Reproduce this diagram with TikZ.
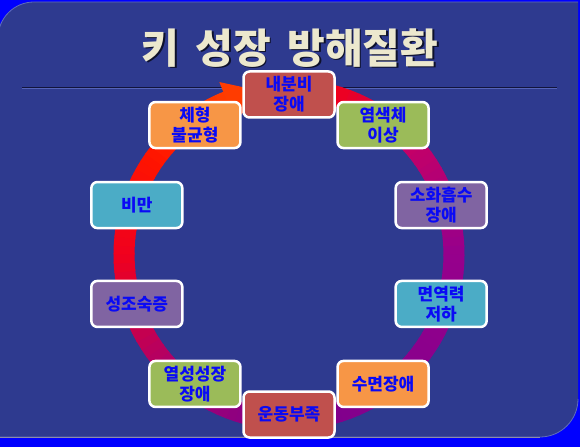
\documentclass[tikz,border=0pt]{standalone}
\usepackage{fontspec}
\newfontfamily\kr{Noto Sans CJK KR}
\definecolor{bgblue}{RGB}{0,0,255}
\definecolor{panelc}{RGB}{46,58,143}
\definecolor{paneledge}{RGB}{95,108,190}
\definecolor{bottomline}{RGB}{140,140,170}
\definecolor{sepdark}{RGB}{18,20,60}
\definecolor{seplight}{RGB}{85,100,185}
\definecolor{titlec}{RGB}{236,232,206}
\definecolor{textblue}{RGB}{10,10,245}
\definecolor{bxred}{HTML}{C0504D}
\definecolor{bxgreen}{HTML}{9BBB59}
\definecolor{bxpurple}{HTML}{8064A2}
\definecolor{bxaqua}{HTML}{4BACC6}
\definecolor{bxorange}{HTML}{F79646}
\definecolor{rc0}{RGB}{255,0,0}
\definecolor{rc1}{RGB}{200,0,100}
\definecolor{rc2}{RGB}{150,0,140}
\definecolor{rc3}{RGB}{125,0,140}
\definecolor{rc4}{RGB}{170,0,110}
\definecolor{rc5}{RGB}{240,0,30}
\definecolor{rc6}{RGB}{255,20,0}
\definecolor{rc7}{RGB}{255,60,0}
\newcommand{\ringpart}[4]{%
  \pgfmathsetmacro{\rpn}{int(round((#1-(#2))/3))}%
  \foreach \k in {1,...,\rpn}{%
    \pgfmathsetmacro{\rpa}{#1-(\k-1)*(#1-(#2))/\rpn}%
    \pgfmathsetmacro{\rpb}{#1-\k*(#1-(#2))/\rpn-0.5}%
    \pgfmathtruncatemacro{\rpp}{round(100*(\k-0.5)/\rpn)}%
    \draw[line width=21pt, color=#4!\rpp!#3] (\rpa:165) arc[start angle=\rpa, end angle=\rpb, radius=165];
  }%
}
\tikzset{
  box/.style={draw=white, line width=2.5pt, rounded corners=6pt,
    minimum width=91pt, minimum height=46pt, align=center, inner sep=0pt,
    text=textblue, font=\kr\bfseries\fontsize{17}{20}\selectfont},
  titlefont/.style={font=\kr\bfseries\fontsize{41}{43}\selectfont}
}
\begin{document}
\begin{tikzpicture}[x=1pt,y=1pt]
\useasboundingbox (0,0) rectangle (580,447);
% background
\fill[bgblue] (0,0) rectangle (580,447);
\fill[panelc] (-2,10) -- (-2,409) arc[start angle=180, end angle=90, radius=36] -- (578,445) -- (578,48) arc[start angle=0, end angle=-90, radius=38] -- cycle;
\draw[paneledge, line width=0.8pt] (-2,409) arc[start angle=180, end angle=90, radius=36] -- (578,445);
\draw[paneledge, line width=0.8pt] (578,48) arc[start angle=0, end angle=-90, radius=38] -- (-2,10);
\draw[bottomline, line width=1pt] (0,10) -- (540,10);
% title
\node[titlefont, text=black!70!panelc] (tshadow) at (291.5,397.5) {키\hspace{0.4em}성장\hspace{0.4em}방해질환};
\node[titlefont, text=titlec] (title) at (290,399) {키\hspace{0.4em}성장\hspace{0.4em}방해질환};
% separator
\draw[sepdark, line width=1.3pt] (22,359.5) -- (557,359.5);
\draw[seplight, line width=0.7pt] (22,358.3) -- (557,358.3);
% ring
\begin{scope}[shift={(289,192.5)}]
\ringpart{85}{45}{rc0}{rc1}
\ringpart{45}{0}{rc1}{rc2}
\ringpart{0}{-90}{rc2}{rc3}
\ringpart{-90}{-135}{rc3}{rc4}
\ringpart{-135}{-180}{rc4}{rc5}
\ringpart{-180}{-215}{rc5}{rc6}
\ringpart{-215}{-248}{rc6}{rc7}
\fill[rc7] (112:144) -- (112:186) -- (99:165) -- cycle;
\end{scope}
% boxes
\begin{scope}[shift={(289,192.5)}]
\node[box, fill=bxred] (n1) at (90:160) {내분비\\장애};
\node[box, fill=bxgreen] (n2) at (54:160) {염색체\\이상};
\node[box, fill=bxpurple] (n3) at (18:160) {소화흡수\\장애};
\node[box, fill=bxaqua] (n4) at (-18:160) {면역력\\저하};
\node[box, fill=bxorange] (n5) at (-54:160) {수면장애};
\node[box, fill=bxred] (n6) at (-90:160) {운동부족};
\node[box, fill=bxgreen] (n7) at (-126:160) {열성성장\\장애};
\node[box, fill=bxpurple] (n8) at (-162:160) {성조숙증};
\node[box, fill=bxaqua] (n9) at (162:160) {비만};
\node[box, fill=bxorange] (n10) at (126:160) {체형\\불균형};
\end{scope}
\end{tikzpicture}
\end{document}
